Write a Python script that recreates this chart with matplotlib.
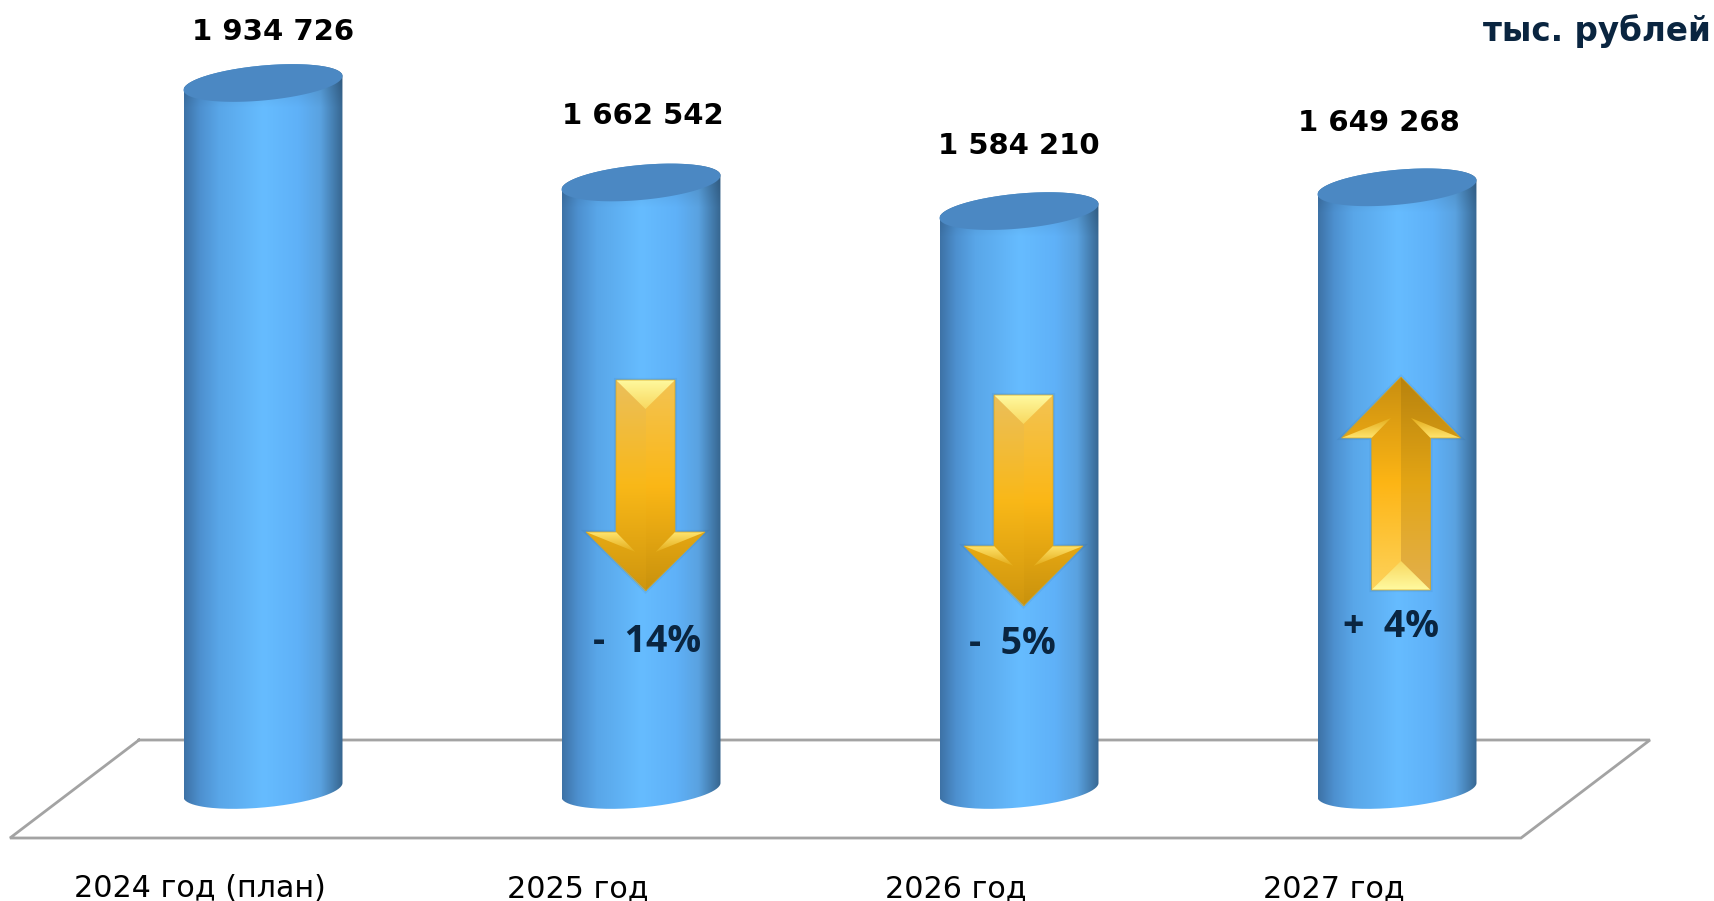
import numpy as np
import matplotlib
matplotlib.use('Agg')
import matplotlib.pyplot as plt
from matplotlib.colors import to_rgb
from matplotlib.patches import PathPatch, Polygon
from matplotlib.path import Path

# chart data
years = ['2024 год (план)', '2025 год', '2026 год', '2027 год']
values = [1934726, 1662542, 1584210, 1649268]
value_labels = ['1 934 726', '1 662 542', '1 584 210', '1 649 268']
change_labels = [None, '-  14%', '-  5%', '+  4%']
unit_label = 'тыс. рублей'

W, H = 1714, 901
BAR_W = 159 / 378
PX_X = 1 / 378               # one pixel in category units
PX_Y = 1934726 / 707         # one pixel in value units
NAVY = '#0a2540'

fig = plt.figure(figsize=(W / 100, H / 100), dpi=100)
ax = fig.add_axes([0, 0, 1, 1])
ax.axis('off')

xlim = (-263 * PX_X, (W - 263) * PX_X)
ylim = (-(H - 790) * PX_Y, 790 * PX_Y)


def x_px(px):
    return xlim[0] + px * PX_X


def y_px(py):
    return ylim[1] - py * PX_Y


def ellipse(cx, cy, t):
    # slanted ellipse, the right side is higher than the left one
    dx = np.cos(t) * BAR_W / 2
    dy = (17.5 * np.sin(t) + 7 * np.cos(t)) * PX_Y
    return cx + dx, cy + dy


def ramp(stops, colors, n):
    rgb = np.array([to_rgb(c) for c in colors])
    pos = np.linspace(0, 1, n)
    return np.stack([np.interp(pos, stops, rgb[:, i]) for i in range(3)], axis=-1)


def cylinder(i, val):
    t1 = np.linspace(np.pi, 2 * np.pi, 80)    # front arc at the base
    t2 = np.linspace(0, np.pi, 80)            # back arc at the top
    xb, yb = ellipse(i, 0, t1)
    xt, yt = ellipse(i, val, t2)
    verts = np.column_stack([np.r_[xb, xt], np.r_[yb, yt]])
    body = PathPatch(Path(np.vstack([verts, verts[0]])), transform=ax.transData,
                     fc='none', ec='none')
    ax.add_patch(body)

    grad = ramp([0, 0.1, 0.22, 0.5, 0.72, 0.86, 1],
                ['#3d72a6', '#4d90cf', '#59a6e8', '#66bcff', '#5fb1f8', '#5aa2e0', '#36658f'], 256)
    top_y = val + 25 * PX_Y
    bot_y = -25 * PX_Y
    rows = int((top_y - bot_y) / PX_Y)
    shade = 0.8 + 0.2 * np.clip(np.arange(rows) / 50, 0, 1)
    img = grad[None, :, :] * shade[:, None, None]
    im = ax.imshow(img, extent=(i - BAR_W / 2, i + BAR_W / 2, bot_y, top_y),
                   aspect='auto', origin='upper', zorder=2)
    im.set_clip_path(body)

    tx, ty = ellipse(i, val, np.linspace(0, 2 * np.pi, 160))
    ax.add_patch(Polygon(np.column_stack([tx, ty]), closed=True, fc='#4b88c3',
                         ec='none', zorder=3))


def facet(points, colors, z=4):
    # polygon given in pixels, filled with a vertical gradient
    pts = np.array([(x_px(p[0]), y_px(p[1])) for p in points])
    patch = Polygon(pts, closed=True, transform=ax.transData, fc='none', ec='none')
    ax.add_patch(patch)
    img = ramp(np.linspace(0, 1, len(colors)), colors, 64)[:, None, :]
    im = ax.imshow(img, extent=(pts[:, 0].min(), pts[:, 0].max(), pts[:, 1].min(), pts[:, 1].max()),
                   aspect='auto', origin='upper', interpolation='bilinear', zorder=z)
    im.set_clip_path(patch)


def outline(points):
    pts = [(x_px(p[0]), y_px(p[1])) for p in points]
    ax.add_patch(Polygon(pts, closed=True, fc='none', ec='#123a66', lw=3, alpha=0.07, zorder=3.5))
    ax.add_patch(Polygon(pts, closed=True, fc='none', ec='#d6a51e', lw=0.5, zorder=5.5))


def arrow_down(c, top, sh, tip, w=29.5, hw=59.5):
    outline([(c - w, top), (c + w, top), (c + w, sh), (c + hw, sh), (c, tip), (c - hw, sh), (c - w, sh)])
    # left half is a little wider so no seam shows in the middle
    facet([(c - w, top), (c + 1, top), (c + 1, tip), (c - hw, sh), (c - w, sh)],
          ['#ebbf5a', '#f9b818', '#cf960e'])
    facet([(c, top), (c + w, top), (c + w, sh), (c + hw, sh), (c, tip)],
          ['#f3c352', '#fbb716', '#c9920d'])
    facet([(c - w, top), (c + w, top), (c, top + 29)], ['#fffaa0', '#f8d860'], z=5)
    facet([(c - hw, sh), (c - w, sh), (c - 10, sh + 20)], ['#ffe46e', '#e3ab18'], z=5)
    facet([(c + hw, sh), (c + w, sh), (c + 10, sh + 20)], ['#ffe46e', '#e3ab18'], z=5)


def arrow_up(c, tip, sh, bottom, w=29.5, hw=59.5):
    outline([(c, tip), (c + hw, sh), (c + w, sh), (c + w, bottom), (c - w, bottom), (c - w, sh), (c - hw, sh)])
    facet([(c, tip), (c + 1, tip), (c + 1, bottom), (c - w, bottom), (c - w, sh), (c - hw, sh)],
          ['#c98f10', '#fdb515', '#fdd25a'])
    facet([(c, tip), (c + hw, sh), (c + w, sh), (c + w, bottom), (c, bottom)],
          ['#b8830e', '#e3a515', '#e2b04c'])
    facet([(c - w, bottom), (c + w, bottom), (c, bottom - 29)], ['#f8d860', '#fffaa0'], z=5)
    facet([(c - hw, sh), (c - w, sh), (c - 10, sh - 20)], ['#e3ab18', '#ffe46e'], z=5)
    facet([(c + hw, sh), (c + w, sh), (c + 10, sh - 20)], ['#e3ab18', '#ffe46e'], z=5)


# floor of the chart
floor_x = [139, 10, 1521, 1650, 139]
floor_y = [740, 838, 838, 740, 740]
ax.plot([x_px(p) for p in floor_x], [y_px(p) for p in floor_y], color='#a3a3a3', lw=2,
        zorder=1, solid_joinstyle='miter')

for i, val in enumerate(values):
    cylinder(i, val)

arrow_down(645.5, 380, 532, 591)
arrow_down(1023.5, 395, 546, 606)
arrow_up(1401, 377, 438, 590)

# captions
label_dx = [10, 2, 0, -18]
label_dy = [51, 66, 65, 64]
for i, txt in enumerate(value_labels):
    ax.text(i + label_dx[i] * PX_X, values[i] + label_dy[i] * PX_Y, txt, ha='center', va='center',
            fontsize=21, fontweight='bold', color='black', zorder=6)

for i, txt in enumerate(years):
    ax.text(i - 63 * PX_X, y_px(897), txt, ha='center', va='baseline', fontsize=21.7,
            color='black', zorder=6)

change_x = [0, 647.5, 1012.5, 1391]
change_y = [0, 642, 644, 627]
for i, txt in enumerate(change_labels):
    if txt is not None:
        ax.text(x_px(change_x[i]), y_px(change_y[i]), txt, ha='center', va='center',
                fontsize=27, fontweight='bold', family='Open Sans', color=NAVY, zorder=6)

ax.text(x_px(1711), y_px(31), unit_label, ha='right', va='center', fontsize=23.5,
        fontweight='bold', color=NAVY, zorder=6)

ax.set_xlim(*xlim)
ax.set_ylim(*ylim)
fig.savefig('out.png', dpi=100)
